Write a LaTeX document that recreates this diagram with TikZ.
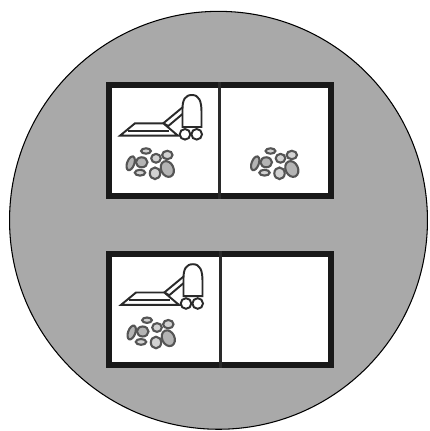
\documentclass[tikz,border=0pt]{standalone}
\usepackage{tikz}
\usetikzlibrary{positioning}
\definecolor{diskgray}{HTML}{A9A9A9}
\definecolor{stonegray}{HTML}{B4B4B4}
\definecolor{inkgray}{HTML}{2A2A2A}

\begin{document}
\begin{tikzpicture}[
  x=0.02cm, y=-0.02cm,
  disk/.style={circle, draw=black, line width=0.6pt, fill=diskgray, inner sep=0pt, minimum size=8.36cm},
  world/.style={draw=inkgray!60!black, line width=3.4pt, fill=white, inner sep=0pt,
                minimum width=4.44cm, minimum height=2.22cm},
  wall/.style={draw=inkgray, line width=1.9pt},
  stone/.style={draw=inkgray!80, line width=1.2pt, fill=stonegray},
  thing/.style={draw=inkgray, line width=1.1pt, fill=white},
  dirt/.pic={
    \draw[stone] (18.7,75.3) ellipse [x radius=3.6, y radius=7.2, rotate=-20];
    \draw[stone] (29.7,74.3) ellipse [x radius=5.8, y radius=5];
    \draw[stone, fill=stonegray!60] (34,63) ellipse [x radius=4.9, y radius=2.7];
    \draw[stone, fill=stonegray!60] (44,70.3) ellipse [x radius=4.8, y radius=4.4];
    \draw[stone, fill=stonegray!60] (55.3,67) ellipse [x radius=5.2, y radius=4.2];
    \draw[stone, fill=stonegray!60] (28,84.7) ellipse [x radius=5.2, y radius=2.9];
    \draw[stone, fill=stonegray!60] (43,85.3) ellipse [x radius=5.2, y radius=5.8];
    \draw[stone] (55.3,81) ellipse [x radius=6.2, y radius=8.2, rotate=25];
  },
  vacuum/.pic={
    % hose
    \draw[thing] (51.3,35.3) -- (71.3,18.7) -- (71.3,25.3) -- (56.3,38) -- cycle;
    % head
    \draw[thing] (8,47.7) -- (23,35.3) -- (51.3,35.3) -- (66,47.7) -- cycle;
    \draw[thing] (16,43) -- (57,43);
    % body
    \draw[thing] (70.5,39) -- (70.5,21) .. controls (70.5,12) and (73,7) .. (80,7)
      .. controls (87,7) and (89.5,13) .. (89.5,24) -- (89.5,39) -- cycle;
    % wheels
    \draw[thing] (73,46.3) circle [radius=5.3];
    \draw[thing] (84.7,46.3) circle [radius=5.3];
  },
]
  \useasboundingbox (0,0) rectangle (429,431);

  % Background
  \node[disk] (bg) at (218.5,220.3) {};

  % Upper state
  \node[world] (top) at (219.7,140.5) {};
  \draw[wall] (top.north) -- (top.south);
  \pic (vaca) at (112,88) {vacuum};
  \pic (dirta) at (112,88) {dirt};
  \pic (dirtb) at (236.5,88) {dirt};

  % Lower state
  \node[world] (bot) at (220.2,309.7) {};
  \draw[wall] (bot.north) -- (bot.south);
  \pic (vacb) at (113,257.2) {vacuum};
  \pic (dirtc) at (113,257.2) {dirt};
\end{tikzpicture}
\end{document}
